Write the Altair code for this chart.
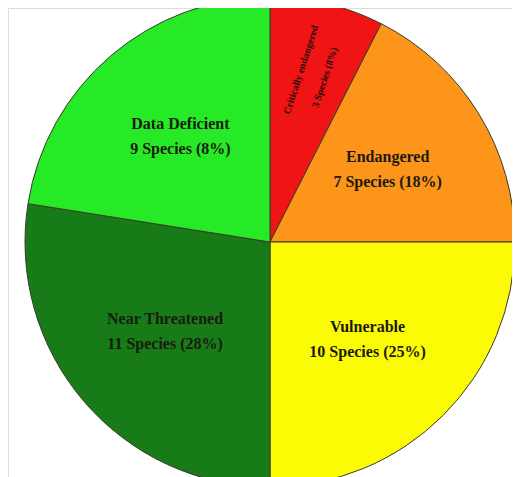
import altair as alt
import pandas as pd

categories = ["Critically Endangered", "Endangered", "Vulnerable", "Near Threatened", "Data Deficient"]
species = [3, 7, 10, 11, 9]
main_labels = ["", "Endangered\n7 Species (18%)", "Vulnerable\n10 Species (25%)",
               "Near Threatened\n11 Species (28%)", "Data Deficient\n9 Species (8%)"]
small_labels = ["Critically endangered\n3 Species (8%)", "", "", "", ""]
colors = ["#f01414", "#fc951a", "#fbfb05", "#177c17", "#25ea25"]

df = pd.DataFrame({
    "cat": categories,
    "n": species,
    "idx": list(range(len(categories))),
    "label": main_labels,
    "small": small_labels,
})

cx = alt.value(262)
cy = alt.value(234)

base = alt.Chart(df).encode(
    theta=alt.Theta("n:Q", stack=True),
    order=alt.Order("idx:Q"),
    x=cx,
    y=cy,
)

pie = base.mark_arc(outerRadius=245, stroke="#3a3a2a", strokeWidth=1).encode(
    color=alt.Color("cat:N", scale=alt.Scale(domain=categories, range=colors), legend=None)
)

labels = base.mark_text(
    radius=138, dy=-13, font="Liberation Serif", fontWeight="bold", fontSize=16,
    lineBreak="\n", lineHeight=25, color="#1a1a10", align="center", baseline="middle"
).encode(text="label:N")

small = base.mark_text(
    radius=174, dy=-10, font="Liberation Serif", fontWeight="bold", fontSize=10,
    lineBreak="\n", lineHeight=25, angle=288, color="#2a0a0a", align="center", baseline="middle"
).encode(text="small:N")

chart = alt.layer(pie, labels, small).properties(
    width=504, height=469, padding=0, autosize=alt.AutoSizeParams(type="none")
).configure_view(stroke=None).configure(background="white")

chart.save("out.html", embed_options={"renderer": "svg", "actions": False})
